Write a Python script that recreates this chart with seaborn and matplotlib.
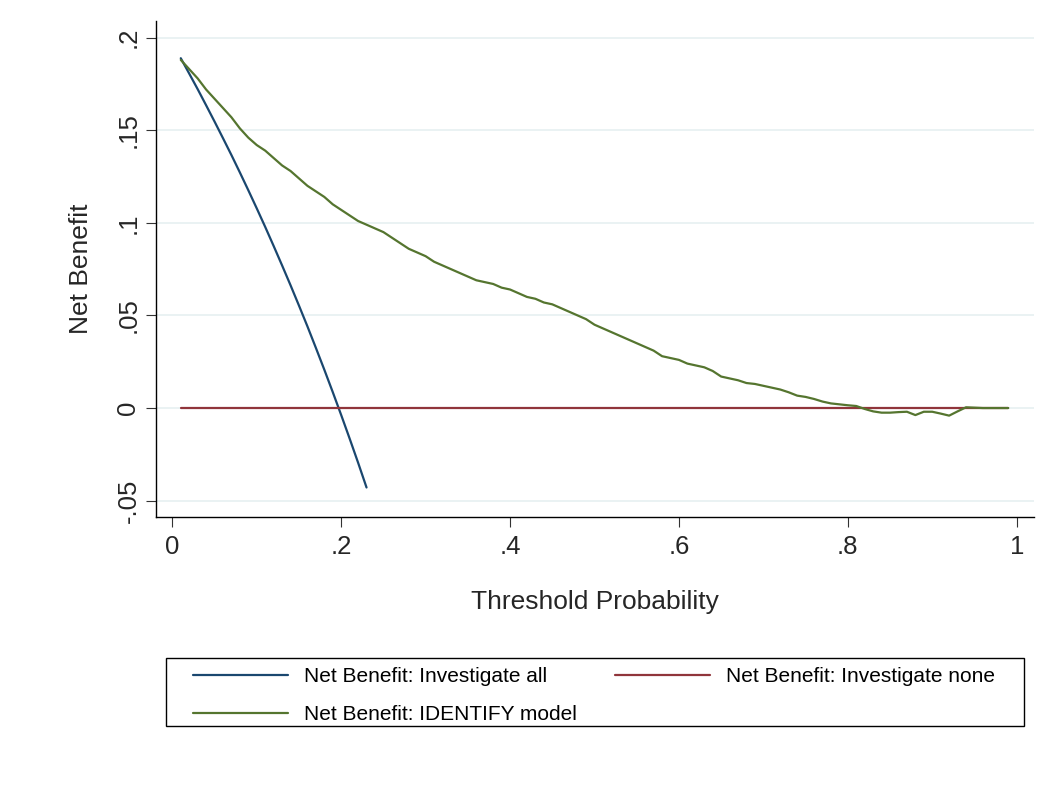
import matplotlib
matplotlib.use("Agg")
import matplotlib.pyplot as plt
from matplotlib.patches import Rectangle
import numpy as np
import pandas as pd
import seaborn as sns

# threshold probabilities and net benefit values
thr_all = [0.01, 0.02, 0.03, 0.04, 0.05, 0.06, 0.07, 0.08, 0.09, 0.10, 0.11, 0.12,
           0.13, 0.14, 0.15, 0.16, 0.17, 0.18, 0.19, 0.20, 0.21, 0.22, 0.23]
nb_all = [0.1889, 0.1806, 0.1722, 0.1635, 0.1547, 0.1457, 0.1366, 0.1272, 0.1176,
          0.1078, 0.0978, 0.0875, 0.0770, 0.0663, 0.0553, 0.0441, 0.0325, 0.0207,
          0.0086, -0.0038, -0.0165, -0.0295, -0.0429]

thr_none = [0.01, 0.99]
nb_none = [0.0, 0.0]

thr_model = [0.01, 0.02, 0.03, 0.04, 0.05, 0.06, 0.07, 0.08, 0.09, 0.10,
             0.11, 0.12, 0.13, 0.14, 0.15, 0.16, 0.17, 0.18, 0.19, 0.20,
             0.21, 0.22, 0.23, 0.24, 0.25, 0.26, 0.27, 0.28, 0.29, 0.30,
             0.31, 0.32, 0.33, 0.34, 0.35, 0.36, 0.37, 0.38, 0.39, 0.40,
             0.41, 0.42, 0.43, 0.44, 0.45, 0.46, 0.47, 0.48, 0.49, 0.50,
             0.51, 0.52, 0.53, 0.54, 0.55, 0.56, 0.57, 0.58, 0.59, 0.60,
             0.61, 0.62, 0.63, 0.64, 0.65, 0.66, 0.67, 0.68, 0.69, 0.70,
             0.71, 0.72, 0.73, 0.74, 0.75, 0.76, 0.77, 0.78, 0.79, 0.80,
             0.81, 0.82, 0.83, 0.84, 0.85, 0.86, 0.87, 0.88, 0.89, 0.90,
             0.91, 0.92, 0.93, 0.94, 0.95, 0.96, 0.97, 0.98, 0.99]
nb_model = [0.188, 0.183, 0.178, 0.172, 0.167, 0.162, 0.157, 0.151, 0.146, 0.142,
            0.139, 0.135, 0.131, 0.128, 0.124, 0.120, 0.117, 0.114, 0.110, 0.107,
            0.104, 0.101, 0.099, 0.097, 0.095, 0.092, 0.089, 0.086, 0.084, 0.082,
            0.079, 0.077, 0.075, 0.073, 0.071, 0.069, 0.068, 0.067, 0.065, 0.064,
            0.062, 0.060, 0.059, 0.057, 0.056, 0.054, 0.052, 0.050, 0.048, 0.045,
            0.043, 0.041, 0.039, 0.037, 0.035, 0.033, 0.031, 0.028, 0.027, 0.026,
            0.024, 0.023, 0.022, 0.020, 0.017, 0.016, 0.015, 0.0135, 0.013, 0.012,
            0.011, 0.010, 0.0085, 0.0067, 0.006, 0.0049, 0.0035, 0.0025, 0.002, 0.0015,
            0.0011, -0.0005, -0.0018, -0.0025, -0.0025, -0.0022, -0.0020, -0.0038, -0.0020, -0.0020,
            -0.0030, -0.0041, -0.0018, 0.0004, 0.0002, 0.0, 0.0, 0.0, 0.0]

x_ticks = [0, 0.2, 0.4, 0.6, 0.8, 1.0]
x_ticklabels = ["0", ".2", ".4", ".6", ".8", "1"]
y_ticks = [-0.05, 0, 0.05, 0.1, 0.15, 0.2]
y_ticklabels = ["-.05", "0", ".05", ".1", ".15", ".2"]

lab_all = "Net Benefit: Investigate all"
lab_none = "Net Benefit: Investigate none"
lab_model = "Net Benefit: IDENTIFY model"

# stata s2color palette
c_navy = "#1a476f"
c_maroon = "#90353b"
c_green = "#55752f"
c_grid = "#eaf2f3"

sns.set_style("white")
plt.rcParams["font.family"] = ["Liberation Sans", "DejaVu Sans"]

df = pd.concat([
    pd.DataFrame({"thr": thr_all, "nb": nb_all, "series": lab_all}),
    pd.DataFrame({"thr": thr_none, "nb": nb_none, "series": lab_none}),
    pd.DataFrame({"thr": thr_model, "nb": nb_model, "series": lab_model}),
], ignore_index=True)

W, H = 1055, 787
fig = plt.figure(figsize=(W / 100, H / 100), dpi=100)
ax = fig.add_axes([155.7 / W, 1 - 517.3 / H, (1034 - 155.7) / W, (517.3 - 21) / H])

sns.lineplot(data=df, x="thr", y="nb", hue="series",
             hue_order=[lab_all, lab_none, lab_model],
             palette=[c_navy, c_maroon, c_green],
             linewidth=1.6, ax=ax, legend=False, sort=False, estimator=None)

ax.set_xlim(-0.0197, 1.0205)
ax.set_ylim(-0.059, 0.209)
ax.set_xticks(x_ticks)
ax.set_xticklabels(x_ticklabels)
ax.set_yticks(y_ticks)
ax.set_yticklabels(y_ticklabels, rotation=90, va="center")

for yv in y_ticks:
    ax.axhline(yv, color=c_grid, lw=1.4, zorder=0)

for side in ["top", "right"]:
    ax.spines[side].set_visible(False)
for side in ["left", "bottom"]:
    ax.spines[side].set_color("black")
    ax.spines[side].set_linewidth(1.0)

ax.tick_params(axis="both", direction="out", length=7, width=0.8, color="#333333",
               labelsize=18.5, left=True, bottom=True)
ax.tick_params(axis="x", pad=6)
ax.tick_params(axis="y", pad=4)

ax.set_xlabel("Threshold Probability", fontsize=19, labelpad=22)
ax.set_ylabel("Net Benefit", fontsize=19, labelpad=17)

# legend: order so that ncol=2 fills rows like stata does
handles = [plt.Line2D([], [], color=c_navy, lw=1.6),
           plt.Line2D([], [], color=c_green, lw=1.6),
           plt.Line2D([], [], color=c_maroon, lw=1.6)]
labels = [lab_all, lab_model, lab_none]
leg = fig.legend(handles, labels, ncol=2, loc="center left",
                 bbox_to_anchor=(193 / W, 1 - 695.5 / H),
                 frameon=False, fontsize=15,
                 handlelength=4.55, handletextpad=0.77, borderpad=0,
                 labelspacing=0.93, borderaxespad=0, columnspacing=1.85)
for t in leg.get_texts():
    t.set_color("black")

fig.add_artist(Rectangle((166 / W, 1 - 726 / H), (1024 - 166) / W, (726 - 658) / H,
                         transform=fig.transFigure, fill=False, ec="black", lw=1.0))

fig.savefig("out.png", dpi=100)
